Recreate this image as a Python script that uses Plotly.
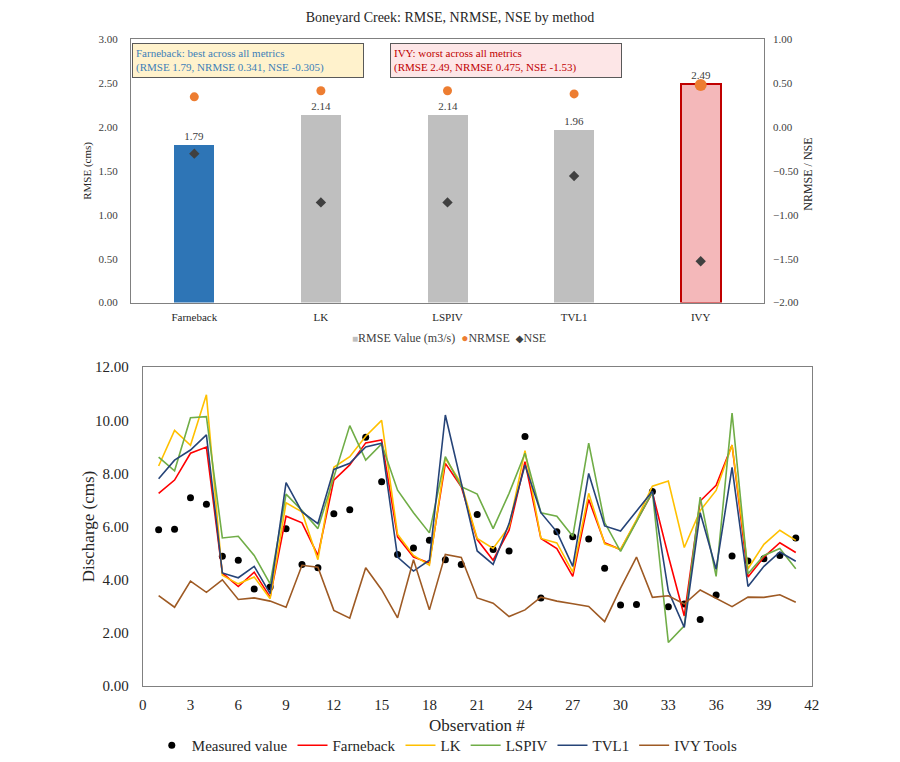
import plotly.graph_objects as go

FONT = "Times New Roman, Liberation Serif, DejaVu Serif, serif"

# Top chart: error metrics by method
methods = ["Farneback", "LK", "LSPIV", "TVL1", "IVY"]
rmse = [1.79, 2.14, 2.14, 1.96, 2.49]
nrmse = [0.341, 0.41, 0.41, 0.375, 0.475]
nse = [-0.305, -0.86, -0.86, -0.56, -1.53]

# Bottom chart: discharge per observation
obs = list(range(1, 42))
measured = [5.88, 5.90, 7.08, 6.84, 4.88, 4.73, 3.65, 3.72, 5.92, 4.57,
            4.45, 6.48, 6.63, 9.36, 7.69, 4.95, 5.19, 5.48, 4.75, 4.57,
            6.45, 5.13, 5.08, 9.39, 3.31, 5.80, 5.61, 5.53, 4.43, 3.04,
            3.06, 7.32, 2.98, 3.08, 2.50, 3.42, 4.89, 4.70, 4.79, 4.91, 5.57]
farneback = [7.25, 7.75, 8.76, 8.99, 4.25, 3.74, 4.28, 3.34, 6.39, 6.14,
             4.91, 7.75, 8.32, 9.15, 9.26, 5.61, 4.85, 4.63, 8.38, 7.50,
             5.51, 4.73, 5.86, 8.44, 5.55, 5.17, 4.12, 7.02, 5.39, 5.13,
             6.20, 7.28, 4.89, 2.63, 6.96, 7.55, 9.07, 4.10, 4.85, 5.39, 5.02]
lk = [8.28, 9.62, 9.06, 10.96, 4.16, 3.84, 4.10, 3.28, 6.89, 6.55,
      4.75, 8.23, 8.63, 9.40, 10.00, 5.71, 4.91, 4.54, 8.57, 7.62,
      5.55, 5.17, 5.99, 8.86, 5.55, 5.38, 4.28, 7.25, 5.35, 5.14,
      6.25, 7.52, 7.71, 5.21, 6.60, 7.36, 9.07, 4.41, 5.33, 5.86, 5.48]
lspiv = [8.61, 8.10, 10.10, 10.14, 5.57, 5.63, 4.91, 3.84, 7.22, 6.60,
         5.92, 7.88, 9.80, 8.50, 9.11, 7.37, 6.52, 5.76, 8.63, 7.50,
         7.22, 5.92, 7.25, 8.76, 6.52, 6.39, 5.63, 9.14, 6.15, 5.06,
         6.20, 7.30, 1.63, 2.26, 7.11, 4.12, 10.27, 4.22, 4.91, 5.17, 4.41]
tvl1 = [7.80, 8.50, 8.88, 9.45, 4.25, 4.07, 4.50, 3.47, 7.65, 6.55,
        6.11, 8.15, 8.38, 9.00, 9.14, 4.85, 4.32, 4.73, 10.20, 7.62,
        5.08, 4.57, 6.11, 8.32, 6.52, 5.80, 4.50, 8.00, 6.02, 5.83,
        6.60, 7.33, 3.57, 2.20, 6.52, 4.39, 8.23, 3.74, 4.50, 5.04, 4.69]
ivy = [3.40, 2.96, 3.94, 3.52, 3.99, 3.25, 3.31, 3.19, 2.96, 4.54,
       4.47, 2.84, 2.55, 4.45, 3.62, 2.56, 4.75, 2.86, 4.95, 4.83,
       3.31, 3.11, 2.61, 2.86, 3.34, 3.19, 3.09, 2.99, 2.42, 3.68,
       4.85, 3.33, 3.39, 3.08, 3.61, 3.29, 2.98, 3.34, 3.33, 3.43, 3.15]

W, H = 900, 762

def px(x):
    return x / W

def py(y):
    return 1 - y / H

def label(fig, text, x, y, size, angle=0, color="#262626"):
    fig.add_annotation(
        xref="paper", yref="paper", x=px(x), y=py(y),
        xanchor="center", yanchor="middle", text=text, textangle=angle,
        showarrow=False, font=dict(family=FONT, size=size, color=color),
    )

fig = go.Figure()

# --- top chart ---
bar_colors = ["#2E75B6", "#BFBFBF", "#BFBFBF", "#BFBFBF", "#F4B8BA"]
line_colors = ["#2E75B6", "#BFBFBF", "#BFBFBF", "#BFBFBF", "#C00000"]
line_widths = [0, 0, 0, 0, 2]
fig.add_trace(go.Bar(
    x=methods, y=rmse, width=0.316,
    marker=dict(color=bar_colors, line=dict(color=line_colors, width=line_widths)),
    texttemplate="%{y:.2f}", textposition="outside",
    textfont=dict(size=11, color="#404040"), cliponaxis=False,
    showlegend=False, xaxis="x", yaxis="y",
))
fig.add_trace(go.Scatter(
    x=methods, y=nrmse, mode="markers", name="NRMSE", showlegend=False,
    marker=dict(color="#ED7D31", size=[9, 9, 9, 9, 12], opacity=1, line_width=0),
    xaxis="x", yaxis="y2",
))
fig.add_trace(go.Scatter(
    x=methods, y=nse, mode="markers", name="NSE", showlegend=False,
    marker=dict(symbol="diamond", color="#404040", size=8, opacity=1, line_width=0),
    xaxis="x", yaxis="y2",
))

# --- bottom chart ---
series = [
    ("Farneback", farneback, "#FF0000"),
    ("LK", lk, "#FFC000"),
    ("LSPIV", lspiv, "#70AD47"),
    ("TVL1", tvl1, "#264478"),
    ("IVY Tools", ivy, "#9E5A24"),
]
fig.add_trace(go.Scatter(
    x=obs, y=measured, mode="markers", name="Measured value",
    marker=dict(color="black", size=7),
    xaxis="x3", yaxis="y3",
))
for name, vals, color in series:
    fig.add_trace(go.Scatter(
        x=obs, y=vals, mode="lines", name=name,
        line=dict(color=color, width=1.6),
        xaxis="x3", yaxis="y3",
    ))

frame = dict(showline=True, linecolor="#808080", linewidth=1, mirror=True,
             showgrid=False, zeroline=False, ticks="", automargin=False)

# annotation boxes
fig.add_annotation(
    xref="paper", yref="paper", x=px(132), y=py(43), xanchor="left", yanchor="top",
    text="Farneback: best across all metrics<br>(RMSE 1.79, NRMSE 0.341, NSE -0.305)",
    align="left", showarrow=False, font=dict(family=FONT, size=11, color="#3C7FB8"),
    bgcolor="#FFF2CC", bordercolor="#595959", borderwidth=1, borderpad=3, width=224,
)
fig.add_annotation(
    xref="paper", yref="paper", x=px(390), y=py(43), xanchor="left", yanchor="top",
    text="IVY: worst across all metrics<br>(RMSE 2.49, NRMSE 0.475, NSE -1.53)",
    align="left", showarrow=False, font=dict(family=FONT, size=11, color="#C00000"),
    bgcolor="#FDE6E7", bordercolor="#595959", borderwidth=1, borderpad=3, width=224,
)

# axis titles
label(fig, "RMSE (cms)", 88, 171, 11, -90)
label(fig, "NRMSE / NSE", 808, 175, 12, -90)
label(fig, "Discharge (cms)", 88, 527, 17, -90)
label(fig, "Observation #", 477, 726, 17)

# top legend, drawn as text
label(fig,
      "<span style='color:#BFBFBF;font-size:10px'>■</span>RMSE Value (m3/s)&nbsp;&nbsp;"
      "<span style='color:#ED7D31;font-size:12px'>●</span>NRMSE&nbsp;&nbsp;"
      "<span style='color:#404040;font-size:10px'>◆</span>NSE",
      449, 338, 12, color="#404040")

fig.update_layout(
    width=W, height=H,
    margin=dict(l=0, r=0, t=0, b=0),
    paper_bgcolor="white", plot_bgcolor="white",
    font=dict(family=FONT, color="#404040"),
    title=dict(text="Boneyard Creek: RMSE, NRMSE, NSE by method",
               x=0.5, xanchor="center", y=py(17), yanchor="middle",
               font=dict(family=FONT, size=14, color="#262626")),
    bargap=0,
    xaxis=dict(domain=[px(131), px(764)], anchor="y", range=[-0.5, 4.5],
               tickfont=dict(size=11, color="#262626"), ticklabelstandoff=4, **frame),
    yaxis=dict(domain=[py(303), py(39)], anchor="x", range=[0, 3], dtick=0.5,
               tickformat=".2f", tickfont=dict(size=11, color="#404040"),
               ticklabelstandoff=10, **frame),
    yaxis2=dict(overlaying="y", side="right", anchor="x", range=[-2, 1], dtick=0.5,
                tickformat=".2f", showgrid=False, zeroline=False, showline=False,
                automargin=False, ticklabelstandoff=8,
                tickfont=dict(size=11, color="#404040")),
    xaxis3=dict(domain=[px(142.7), px(811.7)], anchor="y3", range=[0, 42], dtick=3,
                tickfont=dict(size=15, color="#262626"), ticklabelstandoff=5, **frame),
    yaxis3=dict(domain=[py(686.7), py(367.7)], anchor="x3", range=[0, 12], dtick=2,
                tickformat=".2f", tickfont=dict(size=15, color="#262626"),
                ticklabelstandoff=10, **frame),
    legend=dict(orientation="h", x=0.497, xanchor="center", y=py(746), yanchor="middle",
                font=dict(size=15, color="#262626"), itemwidth=30),
)

# drop the page's default body margin so the figure sits at the window origin
fig.write_html("out.html", config={"displayModeBar": False},
               post_script="document.body.style.margin='0px';")
